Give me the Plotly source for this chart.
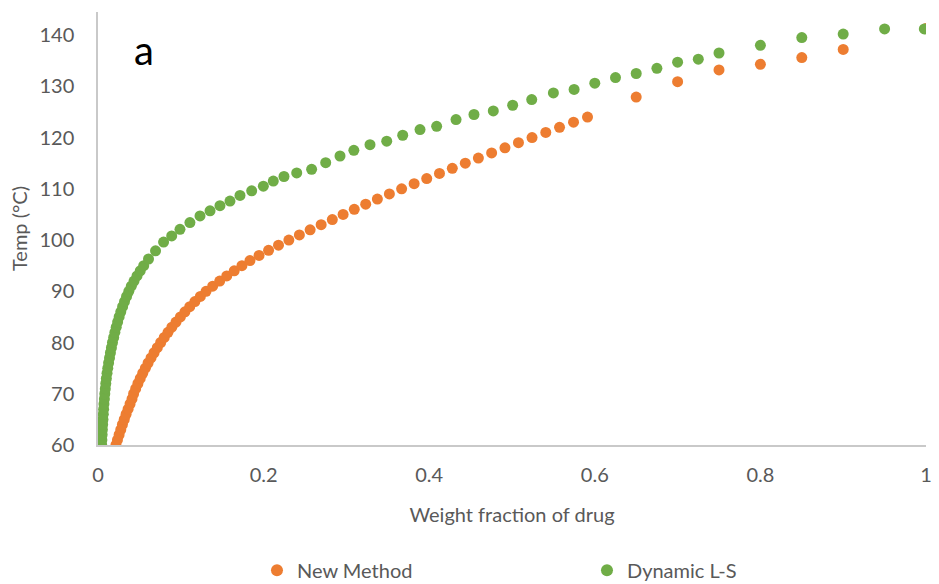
import plotly.graph_objects as go

# ---- data ----
new_method_x = [0.0217, 0.0235, 0.0255, 0.0275, 0.0295, 0.0317, 0.0339, 0.0363, 0.0387, 0.0411,
                0.0430, 0.0455, 0.0482, 0.0510, 0.0540, 0.0572, 0.0605, 0.0640, 0.0677, 0.0716,
                0.0757, 0.0800, 0.0845, 0.0892, 0.0942, 0.0995, 0.1050, 0.1108, 0.1170, 0.1236,
                0.1305, 0.1385, 0.1470, 0.1555, 0.1645, 0.1738, 0.1835, 0.1945, 0.2060, 0.2180,
                0.2305, 0.2432, 0.2562, 0.2695, 0.2830, 0.2960, 0.3095, 0.3233, 0.3374, 0.3519,
                0.3667, 0.3818, 0.3970, 0.4124, 0.4279, 0.4436, 0.4594, 0.4754, 0.4915, 0.5078,
                0.5242, 0.5408, 0.5574, 0.5743, 0.5912,
                0.65, 0.70, 0.75, 0.80, 0.85, 0.90, 1.0]
new_method_t = [60, 61, 62, 63, 64, 65, 66, 67, 68, 69,
                70, 71, 72, 73, 74, 75, 76, 77, 78, 79,
                80, 81, 82, 83, 84, 85, 86, 87, 88, 89,
                90, 91, 92, 93, 94, 95, 96, 97, 98, 99,
                100, 101, 102, 103, 104, 105, 106, 107, 108, 109,
                110, 111, 112, 113, 114, 115, 116, 117, 118, 119,
                120, 121, 122, 123, 124,
                127.9, 130.9, 133.2, 134.3, 135.6, 137.2, 141.3]

dynamic_ls_x = [0.0045, 0.0047, 0.0050, 0.0053, 0.0056, 0.0060, 0.0064, 0.0068, 0.0072, 0.0077,
                0.0082, 0.0088, 0.0094, 0.0101, 0.0109, 0.0118, 0.0128, 0.0139, 0.0150, 0.0162,
                0.0175, 0.0189, 0.0204, 0.0220, 0.0237, 0.0255, 0.0275, 0.0297, 0.0320, 0.0345,
                0.0372, 0.0402, 0.0435, 0.0471, 0.0510, 0.0552,
                0.0610, 0.0695, 0.0792, 0.0890, 0.0990, 0.1110, 0.1232, 0.1353, 0.1473, 0.1594,
                0.1715, 0.1856, 0.1997, 0.2117, 0.2246, 0.2400, 0.2580, 0.2750, 0.2923, 0.3090,
                0.3285, 0.3487, 0.3680, 0.3889, 0.4090, 0.4324, 0.4541, 0.4774, 0.5008, 0.5238,
                0.550, 0.575, 0.600, 0.625, 0.650, 0.675, 0.700, 0.725, 0.750,
                0.80, 0.85, 0.90, 0.95, 0.998]
dynamic_ls_t = [60, 61, 62, 63, 64, 65, 66, 67, 68, 69,
                70, 71, 72, 73, 74, 75, 76, 77, 78, 79,
                80, 81, 82, 83, 84, 85, 86, 87, 88, 89,
                90, 91, 92, 93, 94, 95,
                96.3, 97.9, 99.6, 100.8, 102.1, 103.4, 104.7, 105.7, 106.7, 107.6,
                108.7, 109.6, 110.5, 111.5, 112.4, 113.1, 113.8, 115.1, 116.4, 117.5,
                118.6, 119.3, 120.45, 121.55, 122.2, 123.5, 124.5, 125.2, 126.3, 127.4,
                128.7, 129.4, 130.6, 131.7, 132.5, 133.5, 134.7, 135.3, 136.5,
                138.0, 139.5, 140.2, 141.2, 141.2]

x_ticks = [0, 0.2, 0.4, 0.6, 0.8, 1]
x_tick_labels = ["0", "0.2", "0.4", "0.6", "0.8", "1"]
y_ticks = [60, 70, 80, 90, 100, 110, 120, 130, 140]

ORANGE = "#ED7D31"
GREEN = "#70AD47"
GRAY_TXT = "#595959"
AXIS = "#c9c9c9"
FONT = "Lato, 'Open Sans', sans-serif"

fig = go.Figure()
fig.add_trace(go.Scatter(x=new_method_x, y=new_method_t, mode="markers", name="New Method",
                         marker=dict(color=ORANGE, size=11, line=dict(width=0))))
fig.add_trace(go.Scatter(x=dynamic_ls_x, y=dynamic_ls_t, mode="markers", name="Dynamic L-S",
                         marker=dict(color=GREEN, size=11, line=dict(width=0))))

fig.update_layout(
    width=939, height=584,
    margin=dict(l=98, r=13, t=12, b=139, autoexpand=False),
    paper_bgcolor="white", plot_bgcolor="white",
    font=dict(family=FONT, color=GRAY_TXT, size=20),
    xaxis=dict(range=[0, 1], tickvals=x_ticks, ticktext=x_tick_labels,
               showgrid=False, zeroline=False, showline=True, linecolor=AXIS, linewidth=1.5,
               ticks="", tickfont=dict(size=20, color=GRAY_TXT), ticklabelstandoff=11,
               automargin=False,
               title=dict(text="Weight fraction of drug", font=dict(size=20, color=GRAY_TXT), standoff=23)),
    yaxis=dict(range=[60, 144.5], tickvals=y_ticks,
               showgrid=False, zeroline=False, showline=True, linecolor=AXIS, linewidth=1.5,
               ticks="", tickfont=dict(size=20, color=GRAY_TXT), ticklabelstandoff=18,
               automargin=False,
               title=dict(text="Temp (°C)", font=dict(size=20, color=GRAY_TXT), standoff=6)),
    legend=dict(orientation="h", x=0.192, xanchor="left", y=-0.289, yanchor="middle",
                font=dict(size=20, color=GRAY_TXT), entrywidth=285, entrywidthmode="pixels",
                itemsizing="constant"),
    annotations=[dict(text="a", x=0.041, y=0.912, xref="paper", yref="paper", showarrow=False,
                      font=dict(size=40, color="black", family=FONT), xanchor="left", yanchor="middle")],
)

fig.write_html("out.html")
